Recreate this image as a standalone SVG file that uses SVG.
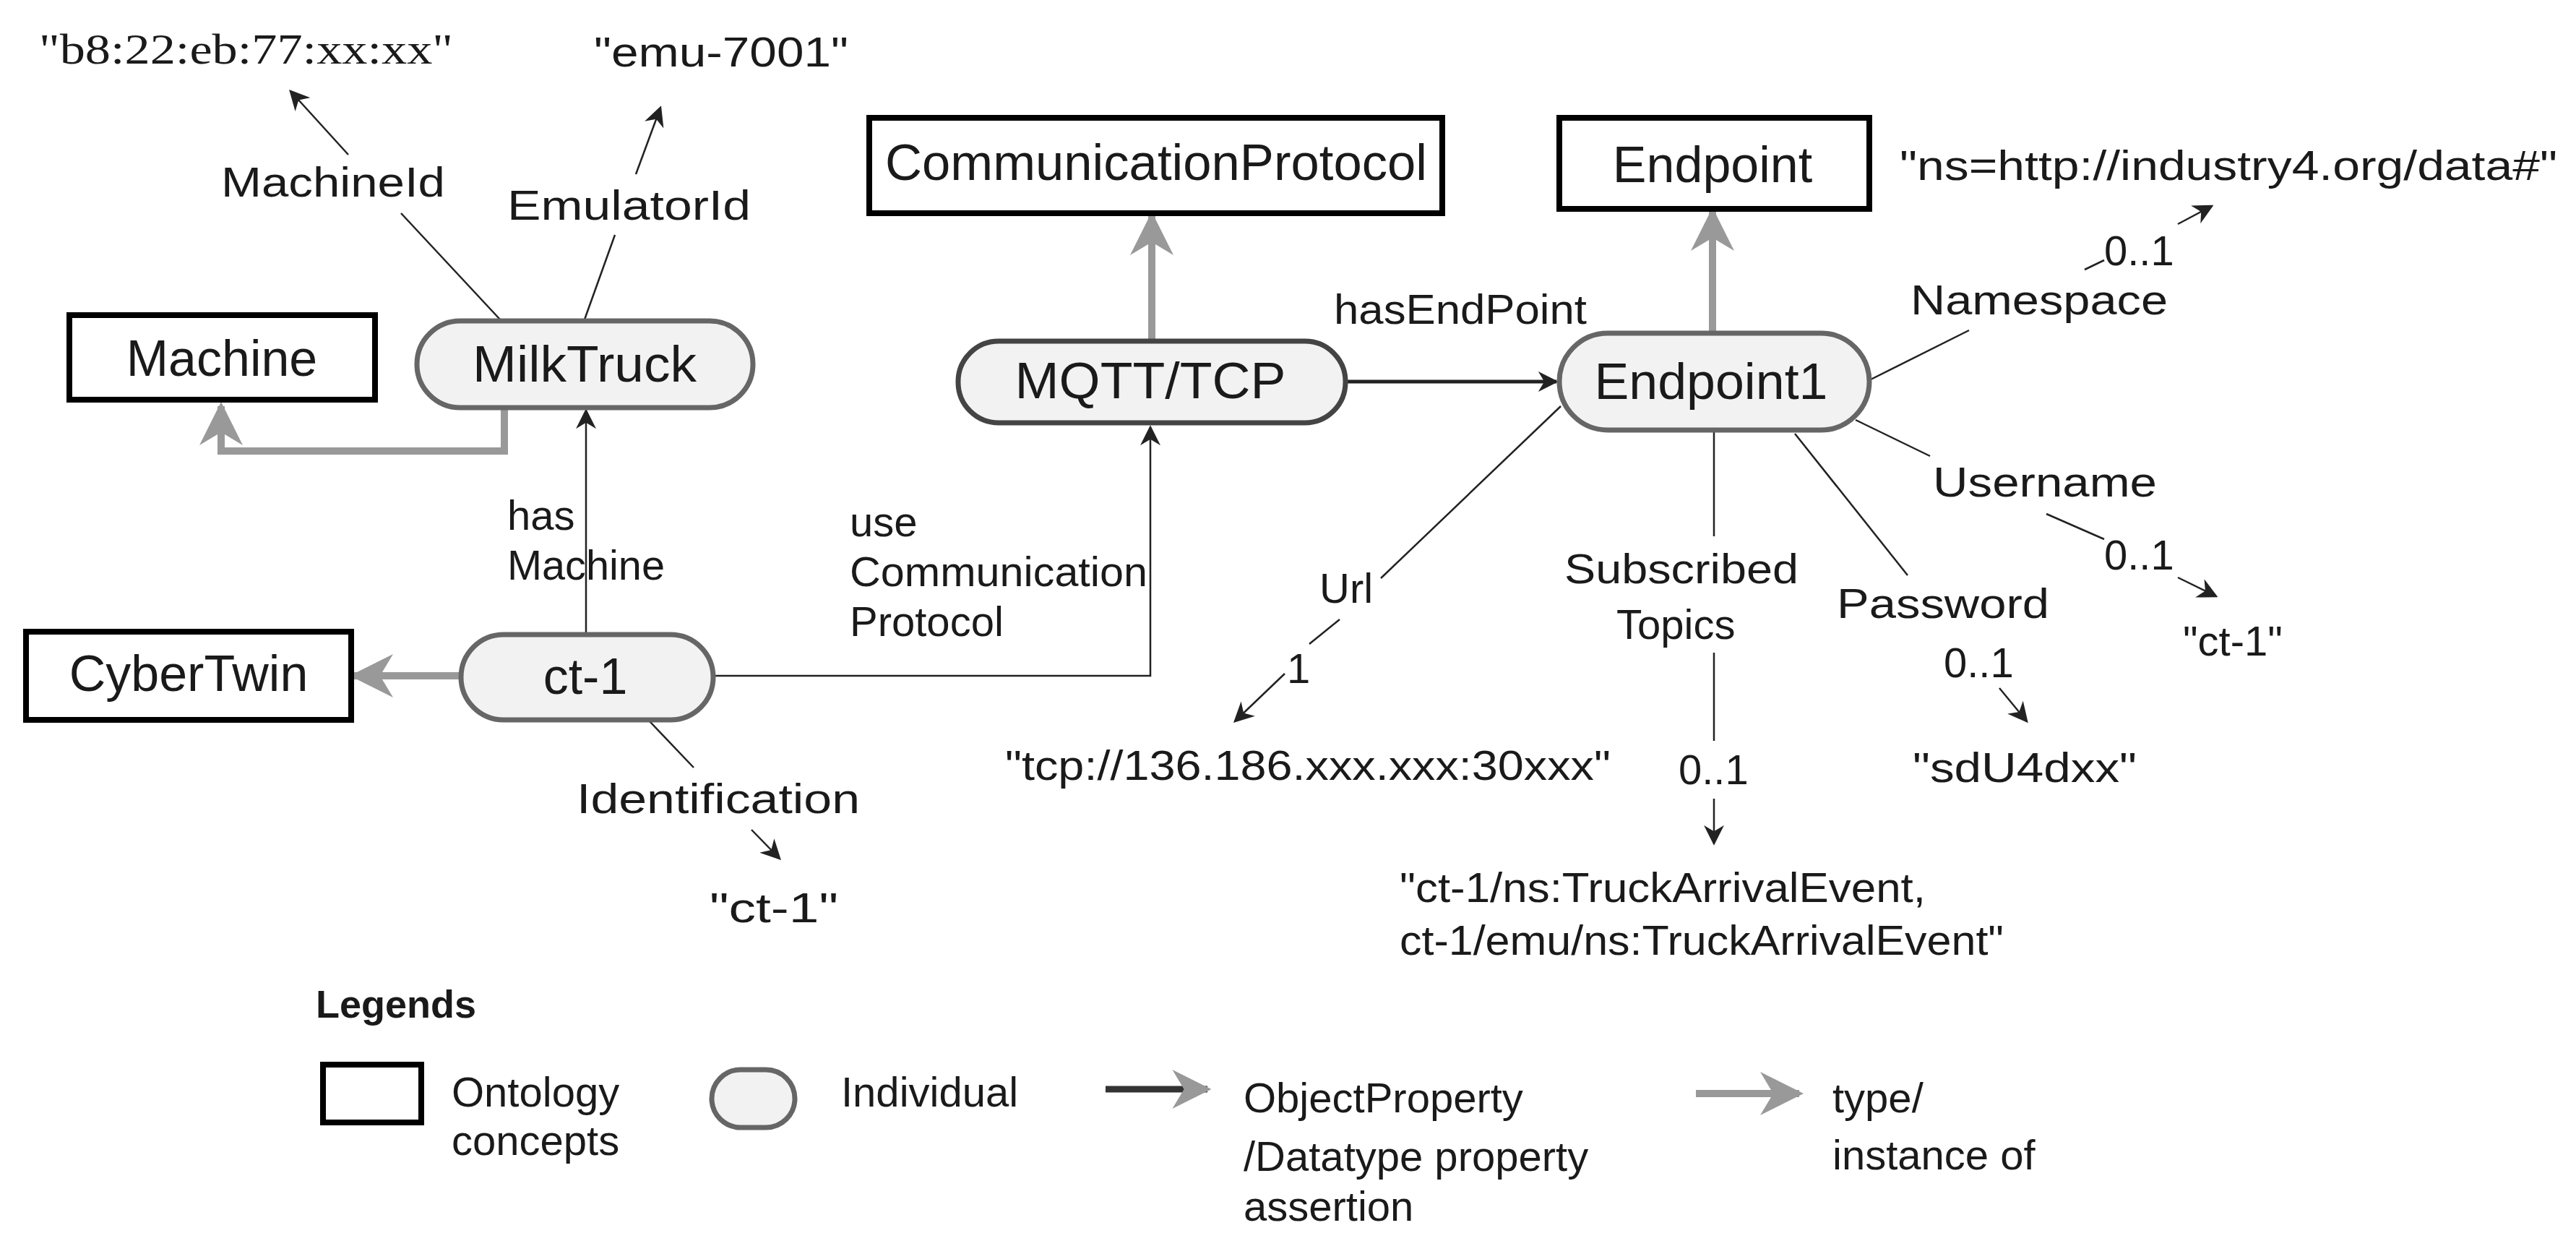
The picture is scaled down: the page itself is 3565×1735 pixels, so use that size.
<svg xmlns="http://www.w3.org/2000/svg" width="3565" height="1735" viewBox="0 0 3565 1735">
<defs>
<style>
text{font-family:"Liberation Sans",Arial,sans-serif;fill:#1a1a1a}
.n{font-size:70px}
.l{font-size:58px}
.cls{fill:#fff;stroke:#000;stroke-width:8}
.ind{fill:#f2f2f2;stroke:#666;stroke-width:7}
.ty{fill:none;stroke:#999;stroke-width:10}
.pr{fill:none;stroke:#222;stroke-width:2.5}
.pb{fill:none;stroke:#222;stroke-width:5}
</style>
<marker id="ab" viewBox="0 0 10 10" refX="9" refY="5" markerWidth="10" markerHeight="10" markerUnits="userSpaceOnUse" orient="auto"><path d="M0,0 L10,5 L0,10 L3,5z" fill="#222"/></marker>
<marker id="abs" viewBox="0 0 10 10" refX="9" refY="5" markerWidth="28" markerHeight="28" markerUnits="userSpaceOnUse" orient="auto"><path d="M0,0 L10,5 L0,10 L3,5z" fill="#222"/></marker>
<marker id="ag" viewBox="0 0 10 10" refX="9" refY="5" markerWidth="6" markerHeight="6" orient="auto"><path d="M0,0 L10,5 L0,10 L3,5z" fill="#999"/></marker>
</defs>
<rect width="3565" height="1735" fill="#fff"/>
<g id="connectors">
<polyline class="ty" points="698,564 698,624 306,624 306,562" marker-end="url(#ag)"/>
<line class="ty" x1="636" y1="935" x2="490" y2="935" marker-end="url(#ag)"/>
<line class="ty" x1="1594" y1="470" x2="1594" y2="299" marker-end="url(#ag)"/>
<line class="ty" x1="2370" y1="459" x2="2370" y2="293" marker-end="url(#ag)"/>
<line class="pr" x1="811" y1="876" x2="811" y2="568" stroke-width="4" marker-end="url(#abs)"/>
<polyline class="pr" points="987,935 1592,935 1592,591" marker-end="url(#abs)"/>
<line class="pb" x1="1862" y1="528" x2="2154" y2="528" marker-end="url(#abs)"/>
<line class="pr" x1="692" y1="442" x2="555" y2="295"/>
<line class="pr" x1="482" y1="214" x2="402" y2="126" marker-end="url(#abs)"/>
<line class="pr" x1="809" y1="442" x2="851" y2="325"/>
<line class="pr" x1="880" y1="241" x2="914" y2="149" marker-end="url(#abs)"/>
<line class="pr" x1="899" y1="998" x2="960" y2="1062" stroke-width="4"/>
<line class="pr" x1="1040" y1="1148" x2="1079" y2="1188" stroke-width="4" marker-end="url(#abs)"/>
<line class="pr" x1="2160" y1="562" x2="1911" y2="800"/>
<line class="pr" x1="1854" y1="857" x2="1812" y2="891"/>
<line class="pr" x1="1778" y1="932" x2="1709" y2="998" marker-end="url(#abs)"/>
<line class="pr" x1="2372" y1="597" x2="2372" y2="742"/>
<line class="pr" x1="2372" y1="903" x2="2372" y2="1025"/>
<line class="pr" x1="2372" y1="1105" x2="2372" y2="1167" marker-end="url(#abs)"/>
<line class="pr" x1="2587" y1="526" x2="2725" y2="457"/>
<line class="pr" x1="2885" y1="373" x2="2912" y2="360"/>
<line class="pr" x1="3014" y1="310" x2="3061" y2="285" marker-end="url(#abs)"/>
<line class="pr" x1="2568" y1="581" x2="2671" y2="631"/>
<line class="pr" x1="2832" y1="711" x2="2912" y2="746"/>
<line class="pr" x1="3014" y1="799" x2="3067" y2="825" marker-end="url(#abs)"/>
<line class="pr" x1="2484" y1="600" x2="2640" y2="796"/>
<line class="pr" x1="2767" y1="952" x2="2805" y2="998" marker-end="url(#abs)"/>
</g>
<g id="labels">
<text class="l" x="306" y="272" textLength="310" lengthAdjust="spacingAndGlyphs">MachineId</text>
<text class="l" x="702" y="304" textLength="337" lengthAdjust="spacingAndGlyphs">EmulatorId</text>
<text class="l" x="702" y="733" font-size="55">has</text>
<text class="l" x="702" y="802" font-size="55" textLength="218" lengthAdjust="spacingAndGlyphs">Machine</text>
<text class="l" x="1176" y="742" font-size="52">use</text>
<text class="l" x="1176" y="811" font-size="52" textLength="412" lengthAdjust="spacingAndGlyphs">Communication</text>
<text class="l" x="1176" y="880" font-size="52">Protocol</text>
<text class="l" x="798" y="1125" textLength="392" lengthAdjust="spacingAndGlyphs">Identification</text>
<text class="l" x="982" y="1276" textLength="178" lengthAdjust="spacingAndGlyphs">"ct-1"</text>
<text class="l" x="1846" y="448" font-size="54" textLength="350" lengthAdjust="spacingAndGlyphs">hasEndPoint</text>
<text class="l" x="1826" y="834">Url</text>
<text class="l" x="1781" y="945">1</text>
<text class="l" x="1391" y="1079" textLength="838" lengthAdjust="spacingAndGlyphs">"tcp://136.186.xxx.xxx:30xxx"</text>
<text class="l" x="2165" y="807" textLength="324" lengthAdjust="spacingAndGlyphs">Subscribed</text>
<text class="l" x="2237" y="884">Topics</text>
<text class="l" x="2323" y="1085">0..1</text>
<text class="l" x="1937" y="1248" font-size="56" textLength="728" lengthAdjust="spacingAndGlyphs">"ct-1/ns:TruckArrivalEvent,</text>
<text class="l" x="1937" y="1321" font-size="56" textLength="836" lengthAdjust="spacingAndGlyphs">ct-1/emu/ns:TruckArrivalEvent"</text>
<text class="l" x="2629" y="249" textLength="910" lengthAdjust="spacingAndGlyphs">"ns=http://industry4.org/data#"</text>
<text class="l" x="2912" y="367">0..1</text>
<text class="l" x="2644" y="435" textLength="356" lengthAdjust="spacingAndGlyphs">Namespace</text>
<text class="l" x="2675" y="687" textLength="310" lengthAdjust="spacingAndGlyphs">Username</text>
<text class="l" x="2912" y="788">0..1</text>
<text class="l" x="3021" y="907">"ct-1"</text>
<text class="l" x="2542" y="855" textLength="294" lengthAdjust="spacingAndGlyphs">Password</text>
<text class="l" x="2690" y="937">0..1</text>
<text class="l" x="2647" y="1082" textLength="310" lengthAdjust="spacingAndGlyphs">"sdU4dxx"</text>
<text x="54" y="88" font-size="60" style="font-family:'Liberation Serif',serif" textLength="573" lengthAdjust="spacingAndGlyphs">"b8:22:eb:77:xx:xx"</text>
<text class="l" x="822" y="92" font-size="60" textLength="352" lengthAdjust="spacingAndGlyphs">"emu-7001"</text>
</g>
<g id="Machine"><rect class="cls" x="96" y="436" width="423" height="117"/><text class="n" x="307" y="520" text-anchor="middle">Machine</text></g>
<g id="MilkTruck"><rect class="ind" x="577" y="444" width="465" height="120" rx="60"/><text class="n" x="809" y="528" text-anchor="middle" textLength="310" lengthAdjust="spacingAndGlyphs">MilkTruck</text></g>
<g id="CyberTwin"><rect class="cls" x="36" y="874" width="450" height="122"/><text class="n" x="261" y="956" text-anchor="middle">CyberTwin</text></g>
<g id="ct-1"><rect class="ind" x="638" y="878" width="349" height="118" rx="59"/><text class="n" x="810" y="960" text-anchor="middle">ct-1</text></g>
<g id="CommunicationProtocol"><rect class="cls" x="1203" y="163" width="793" height="132"/><text class="n" x="1600" y="249" text-anchor="middle" textLength="750" lengthAdjust="spacingAndGlyphs">CommunicationProtocol</text></g>
<g id="MQTT"><rect class="ind" x="1326" y="472" width="536" height="113" rx="56" style="stroke:#444"/><text class="n" x="1592" y="551" text-anchor="middle" textLength="375" lengthAdjust="spacingAndGlyphs">MQTT/TCP</text></g>
<g id="Endpoint"><rect class="cls" x="2158" y="163" width="429" height="126"/><text class="n" x="2370" y="252" text-anchor="middle">Endpoint</text></g>
<g id="Endpoint1"><rect class="ind" x="2158" y="461" width="429" height="134" rx="67"/><text class="n" x="2368" y="552" text-anchor="middle" textLength="323" lengthAdjust="spacingAndGlyphs">Endpoint1</text></g>
<g id="legend">
<text x="437" y="1408" font-size="54" font-weight="bold">Legends</text>
<rect x="447" y="1473" width="136" height="80" fill="#fff" stroke="#000" stroke-width="8"/>
<text class="l" x="625" y="1531" font-size="52">Ontology</text>
<text class="l" x="625" y="1598" font-size="52">concepts</text>
<rect class="ind" x="985" y="1480" width="115" height="80" rx="40"/>
<text class="l" x="1164" y="1531" font-size="52">Individual</text>
<line x1="1530" y1="1507" x2="1671" y2="1507" stroke="#333" stroke-width="9" marker-end="url(#ag)" style="stroke:#333"/>
<text class="l" x="1721" y="1539" font-size="50">ObjectProperty</text>
<text class="l" x="1721" y="1620" font-size="50">/Datatype property</text>
<text class="l" x="1721" y="1689" font-size="50">assertion</text>
<line class="ty" x1="2347" y1="1513" x2="2490" y2="1513" stroke-width="14" marker-end="url(#ag)"/>
<text class="l" x="2536" y="1539" font-size="50">type/</text>
<text class="l" x="2536" y="1618" font-size="50">instance of</text>
</g>
</svg>
